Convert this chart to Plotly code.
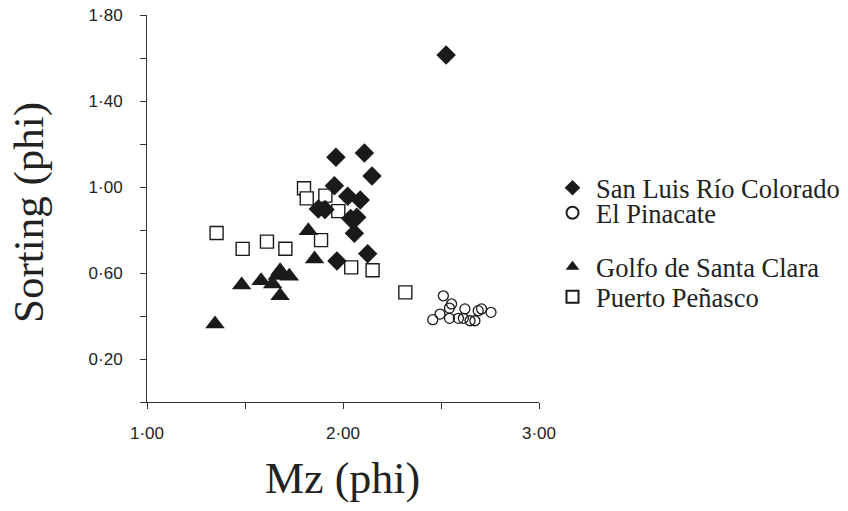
import plotly.graph_objects as go

# San Luis Río Colorado (filled diamonds)
slrc_x = [1.964, 2.109, 2.148, 1.956, 2.024, 2.088, 1.874, 1.908, 2.039, 2.070, 2.058, 2.126, 1.969, 2.526]
slrc_y = [1.138, 1.158, 1.051, 1.006, 0.957, 0.940, 0.898, 0.895, 0.854, 0.859, 0.785, 0.690, 0.656, 1.614]

# El Pinacate (open circles)
pin_x = [2.512, 2.554, 2.543, 2.495, 2.458, 2.543, 2.589, 2.622, 2.614, 2.648, 2.673, 2.690, 2.707, 2.755]
pin_y = [0.494, 0.456, 0.437, 0.409, 0.383, 0.389, 0.389, 0.433, 0.389, 0.378, 0.378, 0.425, 0.433, 0.417]

# Golfo de Santa Clara (filled triangles)
gsc_x = [1.823, 1.855, 1.483, 1.582, 1.679, 1.726, 1.641, 1.665, 1.679, 1.347]
gsc_y = [0.797, 0.665, 0.544, 0.564, 0.611, 0.585, 0.549, 0.588, 0.494, 0.363]

# Puerto Peñasco (open squares)
pp_x = [1.801, 1.815, 1.910, 1.976, 1.888, 1.355, 1.488, 1.612, 1.706, 2.042, 2.151, 2.318]
pp_y = [0.994, 0.947, 0.960, 0.888, 0.753, 0.786, 0.712, 0.746, 0.713, 0.626, 0.613, 0.510]

x_tickvals = [1.0, 1.5, 2.0, 2.5, 3.0]
x_ticktext = ["1·00", "", "2·00", "", "3·00"]
y_tickvals = [0.0, 0.2, 0.4, 0.6, 0.8, 1.0, 1.2, 1.4, 1.6, 1.8]
y_ticktext = ["", "0·20", "", "0·60", "", "1·00", "", "1·40", "", "1·80"]

INK = "#1a1a1a"
SERIF = "Liberation Serif, Times New Roman, serif"
SANS = "Liberation Sans, Arial, sans-serif"

# page body margin offsets the figure by 8px
OFF = 8
W, H = 848 - 2 * OFF, 511 - 2 * OFF
PLOT_X0, PLOT_X1 = 147, 539   # image px
PLOT_Y0, PLOT_Y1 = 15, 402    # image px
L = PLOT_X0 - OFF
T = PLOT_Y0 - OFF
PW = PLOT_X1 - PLOT_X0
PH = PLOT_Y1 - PLOT_Y0
R = W - L - PW
B = H - T - PH


def px_x(ix):
    return (ix - PLOT_X0) / PW


def px_y(iy):
    return (PLOT_Y1 - iy) / PH


fig = go.Figure()
fig.add_trace(go.Scatter(
    x=pp_x, y=pp_y, mode="markers", name="Puerto Peñasco", legend="legend4",
    marker=dict(symbol="square", size=13, color="white", line=dict(color=INK, width=1.4)),
    cliponaxis=False))
fig.add_trace(go.Scatter(
    x=gsc_x, y=gsc_y, mode="markers", name="Golfo de Santa Clara", legend="legend3",
    marker=dict(symbol="triangle-up", size=17, color=INK, line=dict(width=0)),
    cliponaxis=False))
fig.add_trace(go.Scatter(
    x=pin_x, y=pin_y, mode="markers", name="El Pinacate", legend="legend2",
    marker=dict(symbol="circle-open", size=10, color=INK, line=dict(color=INK, width=1.3)),
    cliponaxis=False))
fig.add_trace(go.Scatter(
    x=slrc_x, y=slrc_y, mode="markers", name="San Luis Río Colorado", legend="legend",
    marker=dict(symbol="diamond", size=15, color=INK, line=dict(width=0)),
    cliponaxis=False))

axis_common = dict(
    showgrid=False, zeroline=False, showline=True, linecolor="#333", linewidth=1,
    ticks="outside", ticklen=6, tickcolor="#333", tickwidth=1, automargin=False,
    ticklabeloverflow="allow",
    tickfont=dict(family=SANS, size=17, color="#222"),
)


def legend_at(iy):
    return dict(
        x=px_x(549), xanchor="left", y=px_y(iy), yanchor="middle",
        font=dict(family=SERIF, size=26.5, color="#222"),
        itemsizing="constant", itemwidth=37, bgcolor="rgba(0,0,0,0)",
        borderwidth=0,
    )


fig.update_layout(
    width=W, height=H,
    margin=dict(l=L, r=R, t=T, b=B, autoexpand=False),
    plot_bgcolor="white", paper_bgcolor="white",
    xaxis=dict(range=[1.0, 3.0], tickvals=x_tickvals, ticktext=x_ticktext,
               ticklabelstandoff=10, **axis_common),
    yaxis=dict(range=[0.0, 1.8], tickvals=y_tickvals, ticktext=y_ticktext,
               ticklabelstandoff=14, **axis_common),
    showlegend=True,
    legend=legend_at(188),
    legend2=legend_at(213),
    legend3=legend_at(267),
    legend4=legend_at(297),
)

fig.add_annotation(text="Mz (phi)", xref="paper", yref="paper",
                   x=px_x(342), y=px_y(478), xanchor="center", yanchor="middle",
                   showarrow=False, font=dict(family=SERIF, size=44, color="#222"))
fig.add_annotation(text="Sorting (phi)", xref="paper", yref="paper",
                   x=px_x(29), y=px_y(213), xanchor="center", yanchor="middle",
                   textangle=-90, showarrow=False, font=dict(family=SERIF, size=43, color="#222"))

fig.write_html("out.html")
